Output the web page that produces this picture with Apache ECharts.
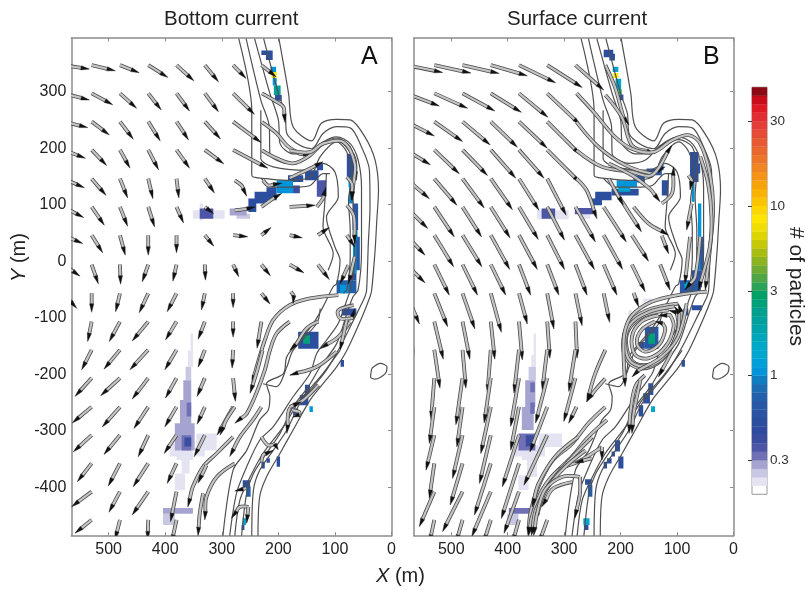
<!DOCTYPE html>
<html><head><meta charset="utf-8">
<style>html,body{margin:0;padding:0;background:#fff}#c{width:806px;height:591px}</style>
<script src="https://cdn.jsdelivr.net/npm/echarts@6/dist/echarts.min.js"></script>
</head><body><div id="c"></div>
<script>
// ---- axes
const xTicks = [0,100,200,300,400,500];
const yTicks = [-400,-300,-200,-100,0,100,200,300];
const xMax = 566, yMin = -486, yMax = 395;

// ---- colour scale (level 0 at bottom)
const colorbarColors = ['none','#e4e3f1','#c9c8e3','#a5a4d0','#6f70b5','#4d55a6','#3a4da0','#2e4b9f','#2b4e9f','#2b52a3','#2857a6','#2260ab','#1a6cb3','#0f7dbf','#0095da','#009fd8','#00a5d0','#00a8c8','#00a6bb','#00a3ac','#00a19d','#00a08c','#00a07a','#00a068','#2aa258','#4ea647','#6eab33','#8cb41f','#a9bd10','#c5c908','#ddd500','#f0df00','#ffe600','#fdd500','#fbc400','#f9b200','#f7a30c','#f39419','#ef8523','#eb7629','#e9682d','#e75a32','#e54c36','#e33e38','#e12e34','#e01a25','#c80c1a','#8b0a14'];
const colorbarTickLevels = [4,14,24,34,44];
const colorbarTickLabels = ['0.3','1','3','10','30'];

// ---- current grid (arrow tails, m)
const gridX = [580,530,480,430,380,330,280,230,180,130,80];
const gridY = [347,297,247,197,146,96,46,-6,-57,-107,-157,-207,-258,-308,-358,-408,-458];
const quiverScale = 0.59; // m of arrow per velocity unit
const n = null;
// u = shoreward, v = southward
const uBottom = [
[78,71,58,59,52,41,39,44],[78,63,50,39,39,41,64],[73,53,40,36,36,47,84],[66,45,30,31,39,57,104],
[63,43,23,14,7,29],[61,38,23,19,21,26],[58,33,16,0,0,27,44,29,38,34],[50,20,2,-18,-11,2,17,27,43,34],
[40,0,-13,-27,-28,-10,0,26],[n,-12,-32,-48,-33,-20,0,-13],[n,-30,-48,-55,-35,-20,-3],[n,-50,-58,-48,-33,-23,7],
[n,-58,-53,-43,-35,-23,-48],[n,-55,-48,-30,-37,-32],[n,-43,-35,-45,-28],[n,-60,-33,-48,-18],[n,-50,-15,-2,-15]];
const vBottom = [
[12,17,23,37,47,50,40,35],[20,34,45,50,53,55,63],[18,40,53,58,55,52,63],[25,47,55,60,55,42,55],
[27,50,58,60,58,43],[32,55,58,60,48,20],[25,53,60,60,53,33,5,-23,8,-23],[35,58,59,52,50,47,37,34,25,45],
[45,57,55,58,55,50,43,32],[n,60,60,58,55,53,47,80],[n,60,58,60,60,52,55],[n,55,53,63,60,55,70],
[n,48,60,65,60,52,85],[n,50,58,65,55,65],[n,55,68,70,60],[n,45,62,70,90],[n,40,60,60,70]];
const uSurface = [
[110,110,110,110,110,105,85],[100,100,97,92,87,100],[85,85,83,80,85,100],[73,75,75,75,75,100],
[70,68,65,65,60,57,n,n],[65,60,57,58,58,52,60,68],[57,58,58,57,55,52,57,57,50],[57,45,45,45,35,35,35,40,40,30],
[40,40,37,32,25,20,20,18],[23,27,22,12,10,8,5],[n,17,10,-10,-15,-15,-20],[n,-10,-20,-20,-25,-35,-35],
[n,-15,-17,-30,-25,-52],[n,-25,-30,-34,-50,-70],[n,-15,-37,-49,-53],[n,-45,-60,-57,-45],[n,-15,-20,-22,-20,-25]];
const vSurface = [
[22,24,25,32,53,67,75],[38,45,53,57,72,95],[43,60,70,77,80,100],[45,72,77,85,85,100],
[60,80,88,93,95,110,n,n],[65,90,90,93,98,100,105,105],[60,95,95,103,103,103,103,103,78],[55,92,92,92,92,92,92,92,82,77],
[92,100,107,117,92,107,97,87],[103,113,113,113,115,110,110],[n,115,115,130,130,120,125],[n,125,140,135,145,135,130],
[n,110,120,140,130,135],[n,105,130,145,155,150],[n,105,125,155,165],[n,105,120,135,125],[n,70,70,70,70,70]];

// ---- long curved current paths [X,Y] in m, tail to tip
const streamsBottom = [
[[229,297],[203,282],[191,273],[188,245]],
[[229,246],[203,226],[185,205],[162,190],[141,188]],
[[229,196],[203,182],[174,173],[147,185],[121,208],[91,214],[67,185],[62,143]],
[[180,196],[144,193],[121,208],[85,211],[65,173],[68,131],[70,108]],
[[180,147],[144,164],[121,176]],
[[277,143],[265,134],[256,115]],
[[227,143],[218,134],[194,138]],
[[230,96],[209,111],[194,120]],
[[277,90],[259,92],[241,96]],
[[180,96],[135,99]],
[[132,96],[121,111],[116,131]],
[[79,149],[70,137],[70,108]],
[[79,99],[67,81],[65,31]],
[[79,46],[65,25]],
[[76,-7],[91,-40]],
[[65,8],[76,-40]],
[[94,-60],[144,-66],[180,-78],[209,-104],[224,-140],[233,-169],[247,-217]],
[[178,-54],[171,-63],[174,-75]],
[[180,-107],[203,-128],[215,-158],[224,-193],[239,-234],[256,-270],[277,-287]],
[[228,-158],[239,-199],[250,-234]],
[[230,-258],[245,-281],[268,-311],[286,-346]],
[[277,-258],[292,-281],[303,-308]],
[[280,-311],[309,-340],[333,-364],[351,-399],[360,-435]],
[[277,-358],[309,-382],[327,-417],[330,-458]],
[[327,-361],[342,-393]],
[[333,-411],[339,-447],[342,-486]],
[[253,-435],[268,-435],[283,-455]],
[[257,-402],[277,-407]],
[[253,-435],[256,-464]],
[[129,-107],[150,-119],[168,-146],[180,-158]],
[[97,-160],[132,-187],[180,-202]],
[[67,-78],[94,-87],[91,-101],[70,-101],[65,-84]],
[[73,-107],[94,-134],[126,-155]],
[[79,-104],[91,-158]],
[[129,-219],[156,-246],[180,-261],[185,-305]],
[[180,-258],[159,-249]],
[[174,-264],[163,-267],[163,-276],[174,-276]],
[[230,-311],[218,-326],[203,-323],[200,-334]],
[[230,-355],[227,-343],[209,-335]]
];
const streamsSurface = [
[[227,347],[210,308],[195,255],[185,241]],
[[227,294],[198,255],[180,205],[139,190]],
[[278,297],[245,261],[210,220],[180,199],[142,193],[109,214],[80,223],[59,208],[42,155],[36,96],[42,19],[50,-51]],
[[278,246],[239,202],[192,170],[145,155],[121,167]],
[[278,196],[233,167],[180,158],[145,152],[109,205]],
[[221,173],[180,152],[148,128],[130,105]],
[[278,146],[260,125],[242,75]],
[[210,125],[163,52]],
[[177,96],[151,67],[115,46]],
[[221,146],[195,99]],
[[127,102],[109,120],[106,167]],
[[80,152],[74,143],[77,126]],
[[74,102],[83,55]],
[[127,45],[115,13]],
[[77,43],[86,-40]],
[[59,43],[68,-28],[86,-51]],
[[59,185],[45,137],[39,78],[42,25],[62,-51]],
[[133,-96],[163,-107],[180,-134],[174,-166],[151,-172],[121,-152],[106,-116],[112,-96],[133,-96]],
[[98,-75],[145,-84],[180,-104],[195,-137],[189,-175],[163,-190],[127,-175],[101,-134],[92,-93],[98,-75]],
[[115,-87],[157,-96],[186,-122],[189,-155],[174,-181],[142,-181],[112,-155],[98,-116],[101,-90],[115,-87]],
[[139,-107],[163,-122],[171,-146],[157,-160],[133,-149],[121,-122],[127,-107],[139,-107]],
[[105,-80],[150,-90],[183,-112],[192,-146],[182,-178],[152,-186],[119,-165],[99,-125],[96,-91],[105,-80]],
[[47,-54],[98,-60],[145,-72],[180,-96],[192,-122],[195,-152],[192,-222]],
[[177,-56],[168,-81]],
[[83,-75],[98,-134],[127,-169],[168,-193],[180,-205]],
[[109,-160],[133,-205]],
[[157,-202],[174,-222],[183,-270],[185,-305]],
[[165,-211],[177,-270],[180,-305]],
[[227,-208],[245,-228],[260,-249]],
[[227,-258],[257,-287],[286,-323],[322,-355],[348,-405],[360,-447],[364,-486]],
[[227,-157],[245,-199],[260,-249]],
[[278,-258],[292,-287]],
[[224,-281],[257,-311],[286,-346],[322,-382],[345,-423],[354,-458]],
[[233,-329],[275,-355],[310,-370],[339,-405],[357,-452],[363,-486]],
[[275,-311],[316,-346],[345,-393],[357,-435]],
[[250,-311],[290,-352],[325,-393],[350,-440],[358,-486]],
[[262,-335],[300,-366],[332,-405],[352,-460]],
[[272,-382],[304,-382],[334,-405],[348,-447],[354,-486]],
[[272,-382],[272,-411],[281,-455]],
[[286,-391],[319,-402],[340,-435]],
[[233,-329],[233,-352]],
[[251,-349],[281,-357]]
];

// ---- bathymetric contours [X,Y] in m
const contours = [
[[199,394],[182,297],[174,238],[141,213],[124,244],[97,251],[73,250],[47,220],[29,179],[23,126],[26,72],[29,19],[35,-51],[38,-63],[53,-101],[79,-158],[97,-187],[121,-217],[144,-246],[174,-299],[197,-340],[221,-382],[233,-417],[236,-486]],
[[226,394],[200,297],[188,261],[185,226],[162,205],[141,199],[121,226],[97,238],[73,236],[53,202],[39,161],[38,96],[41,31],[44,-51],[47,-63],[67,-104],[91,-152],[115,-193],[138,-222],[162,-252],[185,-299],[209,-335],[233,-370],[244,-405],[247,-486]],
[[242,394],[215,297],[200,250],[197,208],[174,190],[147,190],[121,211],[97,220],[73,208],[59,179],[53,131],[53,78],[53,19],[59,-51],[68,-63],[79,-93],[97,-146],[126,-187],[147,-222],[174,-258],[197,-305],[221,-340],[244,-376],[256,-411],[265,-486]],
[[257,394],[231,285],[216,238],[215,190],[185,173],[156,179],[129,205],[97,215],[73,202],[65,161],[68,114],[65,55],[65,-4],[73,-51],[79,-69],[94,-110],[115,-140],[132,-163],[144,-199],[174,-240],[209,-293],[233,-317],[256,-364],[274,-411],[286,-486]],
[[270,394],[247,267],[247,152],[221,146],[185,143],[144,149],[126,185],[97,211],[79,193],[70,149],[76,108],[73,55],[73,8],[79,-51],[85,-57]],
[[231,267],[231,182],[209,167],[150,161],[121,173],[100,158],[94,114],[115,78],[100,25],[91,2],[97,-40],[103,-45],[121,-81],[138,-110],[162,-140],[185,-169],[191,-199],[221,-217],[215,-240],[218,-264],[233,-281],[256,-335],[280,-370],[298,-486]],
[[230,146],[209,131],[174,131],[144,134],[121,155],[109,155]],
[[126,-84],[132,-110],[174,-158],[185,-187],[203,-222],[227,-217]],
[[115,155],[118,102],[121,61],[103,13],[112,-16]],
[[91,-158],[126,-205],[162,-246],[191,-293],[227,-340],[250,-382],[268,-423],[277,-486]],
[[35,-190],[20,-181],[8,-187],[11,-199],[29,-209],[37,-205],[35,-190]]
];

// ---- particle density patches [X0,X1,Y0,Y1,count]
const heatBottom = [
[230,210,373,365,.5],[222,210,365,356,.5],[214,204,344,335,1],[212,203,335,324,8],[210,203,324,311,1],[208,196,311,294,2],[206,194,294,284,.5],
[132,121,173,161,.5],[153,129,161,143,.5],[183,156,152,140,.5],[203,174,143,120,1],[174,162,134,120,.4],[221,203,131,108,.5],[242,218,123,102,.5],[253,239,111,87,.5],
[286,256,93,81,.28],[274,250,84,75,.25],[132,115,143,114,.35],[339,315,93,75,.35],[351,295,90,75,.22],[339,333,102,72,.2],
[79,65,190,149,.5],[76,65,149,131,1],[75,68,131,102,.9],[69,59,102,55,.6],[66,60,55,37,1],[65,56,43,-16,.6],[68,62,31,-22,1],[73,62,-16,-34,.5],[97,62,-34,-57,.7],[91,76,-42,-57,1],
[88,62,-84,-96,.5],[165,129,-125,-155,.5],[156,144,-131,-146,2.5],[90,84,-175,-187,.5],[153,144,-219,-237,.5],[162,147,-237,-255,.5],[145,139,-257,-267,1],[174,165,-261,-273,.5],
[230,224,-355,-367,.5],[221,215,-349,-357,.5],[203,197,-346,-364,.5],[263,250,-388,-402,.5],[257,249,-399,-417,.7],[263,257,-455,-467,1.2],[265,260,-467,-476,.5],
[355,351,-128,-158,.2],[360,351,-158,-187,.22],[364,354,-187,-211,.25],[368,354,-211,-246,.28],[374,354,-246,-311,.28],[383,348,-287,-335,.28],[371,354,-308,-335,.33],[366,354,-312,-328,.42],[362,354,-250,-275,.33],[392,374,-323,-346,.22],[380,351,-335,-352,.22],[371,357,-352,-376,.2],[383,365,-376,-405,.2],[345,309,-305,-335,.2],[345,330,-329,-346,.2],[404,351,-437,-447,.28],[404,383,-447,-467,.25]
];
const heatSurface = [
[230,213,374,361,.5],[220,210,367,355,.5],[214,204,344,335,1.2],[213,204,333,324,8],[209,199,323,303,1.2],[204,198,304,295,3],[205,195,295,285,.5],
[133,124,173,161,.5],[154,127,164,152,.55],[177,157,152,139,.6],[207,171,143,131,1],[204,183,133,123,1.2],[216,168,128,116,.5],[245,216,123,108,.5],[251,233,111,99,.5],
[281,248,94,83,.35],[269,254,84,75,.22],[127,115,143,116,.5],[340,316,93,75,.35],[348,292,90,74,.22],
[77,62,193,140,.5],[68,59,173,155,.55],[74,69,140,105,1],[63,57,102,43,1],[62,53,43,-16,.6],[65,59,25,-16,1],[74,56,-16,-46,.55],
[95,59,-34,-57,.6],[87,80,-37,-48,1.2],[74,56,-78,-87,.5],[89,80,-84,-96,.5],[160,145,-66,-75,.22],[186,180,-87,-99,.2],[157,133,-116,-155,.6],[168,157,-143,-155,.5],[151,139,-128,-146,2.5],
[92,86,-175,-187,.5],[151,142,-216,-237,.55],[160,148,-234,-252,.55],[168,160,-255,-275,.5],[146,139,-257,-267,1.2],[210,201,-317,-337,.55],[216,210,-337,-346,.5],[224,216,-349,-358,.5],[230,224,-355,-367,.5],[204,195,-346,-367,.5],
[263,251,-386,-396,.5],[258,250,-396,-417,.7],[266,255,-455,-467,1.2],[265,257,-467,-476,.5],
[354,350,-128,-166,.2],[358,350,-166,-187,.22],[363,350,-187,-211,.25],[369,351,-211,-258,.28],[375,354,-258,-299,.28],[381,351,-305,-335,.33],[368,354,-308,-328,.42],[360,352,-215,-232,.33],[360,352,-250,-270,.33],[390,366,-326,-346,.22],[375,351,-335,-352,.2],[366,348,-349,-382,.2],[381,363,-379,-405,.2],[345,304,-305,-329,.2],[354,334,-326,-346,.2],[398,351,-437,-447,.3],[401,381,-447,-467,.25]
];

// ---- helpers
const ink = '#222', frame = '#8c8c8c', FF = '"Liberation Sans",Arial,sans-serif';
function level(v){ return Math.max(1, Math.min(47, Math.round(14 + 20*Math.log10(v)))); }
function quiverPaths(U, V){
  const out = [];
  gridY.forEach((y,j)=> gridX.forEach((x,i)=>{
    const u = U[j][i], v = V[j][i];
    if (u==null || v==null) return;
    out.push([[x,y],[x-u*quiverScale, y-v*quiverScale]]);
  }));
  return out;
}
function arrowSeries(paths, xi, yi){
  return { type:'custom', xAxisIndex:xi, yAxisIndex:yi, clip:true, z:4, silent:true,
    data: paths.map(p=>p[0]), encode:{x:0,y:1},
    renderItem(params, api){
      const pts = paths[params.dataIndex].map(p=>api.coord(p));
      const headLen = 8.5, tip = pts[pts.length-1];
      let remain = headLen, shaft = pts.slice(), base = null;
      for (let k=pts.length-1;k>0;k--){
        const a=pts[k-1], b=pts[k], L=Math.hypot(b[0]-a[0],b[1]-a[1]);
        if (L>=remain){ const t=remain/L; base=[b[0]+(a[0]-b[0])*t,b[1]+(a[1]-b[1])*t]; shaft=pts.slice(0,k).concat([base]); break; }
        remain-=L;
      }
      if(!base){ base=pts[0]; shaft=[pts[0],pts[0]]; }
      const dx=tip[0]-base[0], dy=tip[1]-base[1], L=Math.hypot(dx,dy)||1, px=-dy/L*2.1, py=dx/L*2.1;
      return {type:'group',children:[
        {type:'polyline',shape:{points:shaft,smooth:pts.length>2?0.35:0},style:{fill:'none',stroke:'#4a4a4a',lineWidth:3.8,lineCap:'butt'}},
        {type:'polyline',shape:{points:shaft,smooth:pts.length>2?0.35:0},style:{fill:'none',stroke:'#c4c4c4',lineWidth:2.2,lineCap:'butt'}},
        {type:'polygon',shape:{points:[[base[0]+px,base[1]+py],tip,[base[0]-px,base[1]-py]]},style:{fill:'#111',stroke:'#111',lineWidth:.4}}
      ]};
    }
  };
}
function heatSeries(patches, xi, yi){
  return { type:'custom', xAxisIndex:xi, yAxisIndex:yi, clip:true, z:2, silent:true,
    data: patches.slice().sort((a,b)=>a[4]-b[4]), encode:{x:[0,1],y:[2,3]},
    renderItem(params, api){
      const a=api.coord([api.value(0),api.value(2)]), b=api.coord([api.value(1),api.value(3)]);
      return {type:'rect',shape:{x:a[0],y:a[1],width:b[0]-a[0],height:b[1]-a[1]},style:{fill:colorbarColors[level(api.value(4))]}};
    }
  };
}
function contourSeries(xi, yi){
  return contours.map(c=>({type:'line',xAxisIndex:xi,yAxisIndex:yi,data:c,showSymbol:false,symbol:'none',smooth:0.3,silent:true,z:3,
    lineStyle:{color:'#505050',width:1.2}}));
}
function panelAxes(gi, showY){
  const lab={color:ink,fontSize:16,fontFamily:FF};
  const line={show:true,lineStyle:{color:frame,width:1.5}};
  const tick={show:true,inside:true,length:3.5,lineStyle:{color:frame,width:1}};
  return {
    x:[
      {type:'value',gridIndex:gi,inverse:true,min:0,max:xMax,position:'bottom',axisLine:{...line,onZero:false},splitLine:{show:false},
        axisTick:{...tick,customValues:xTicks},axisLabel:{...lab,margin:6,customValues:xTicks,showMinLabel:true,showMaxLabel:true}},
      {type:'value',gridIndex:gi,inverse:true,min:0,max:xMax,position:'top',axisLine:{...line,onZero:false},splitLine:{show:false},
        axisTick:{...tick,customValues:xTicks},axisLabel:{show:false}}
    ],
    y:[
      {type:'value',gridIndex:gi,min:yMin,max:yMax,position:'left',axisLine:{...line,onZero:false},splitLine:{show:false},
        axisTick:{show:false},axisLabel:showY?{...lab,margin:5,customValues:yTicks}:{show:false}},
      {type:'value',gridIndex:gi,min:yMin,max:yMax,position:'right',axisLine:{...line,onZero:false},splitLine:{show:false},
        axisTick:{...tick,customValues:yTicks},axisLabel:{show:false}}
    ]
  };
}
const A = panelAxes(0,true), B = panelAxes(1,false);
const levels = colorbarColors.map((_,k)=>k);

const option = {
  animation:false,
  backgroundColor:'#fff',
  grid:[
    {left:71.3,top:38,width:320.2,height:497.7},
    {left:414,top:38,width:319.5,height:497.7},
    {left:752,top:87.3,width:15,height:407,show:true,borderColor:'#9a9a9a',borderWidth:1}
  ],
  xAxis:[...A.x,...B.x,{type:'value',gridIndex:2,min:0,max:1,show:false}],
  yAxis:[...A.y,...B.y,{type:'value',gridIndex:2,min:0,max:48,position:'right',
    axisLine:{show:false},splitLine:{show:false},
    axisTick:{show:true,inside:true,length:4,lineStyle:{color:'#333',width:1},customValues:colorbarTickLevels},
    axisLabel:{color:'#333',fontSize:13.5,fontFamily:FF,margin:3,customValues:colorbarTickLevels,
      formatter:v=>colorbarTickLabels[colorbarTickLevels.indexOf(v)]}}],
  series:[
    heatSeries(heatBottom,0,0), ...contourSeries(0,0), arrowSeries(quiverPaths(uBottom,vBottom).concat(streamsBottom),0,0),
    heatSeries(heatSurface,2,2), ...contourSeries(2,2), arrowSeries(quiverPaths(uSurface,vSurface).concat(streamsSurface),2,2),
    {type:'custom',xAxisIndex:4,yAxisIndex:4,silent:true,z:2,data:levels.map(k=>[0,1,k]),encode:{x:[0,1],y:2},
      renderItem(params,api){
        const k=api.value(2),a=api.coord([0,k+1]),b=api.coord([1,k]);
        return {type:'rect',shape:{x:a[0],y:a[1],width:b[0]-a[0],height:b[1]-a[1]},style:{fill:colorbarColors[k],stroke:colorbarColors[k],lineWidth:.3}};
      }}
  ],
  graphic:[
    {type:'text',left:164,top:9,style:{text:'Bottom current',font:'20.5px '+FF,fill:ink}},
    {type:'text',left:507,top:9,style:{text:'Surface current',font:'20.5px '+FF,fill:ink}},
    {type:'text',left:361,top:45,style:{text:'A',font:'25px '+FF,fill:'#111'}},
    {type:'text',left:703,top:45,style:{text:'B',font:'25px '+FF,fill:'#111'}},
    {type:'text',x:376,y:566,style:{text:'{i|X} (m)',font:'20px '+FF,fill:ink,rich:{i:{font:'italic 20px '+FF,fill:ink}}}},
    {type:'text',x:9,y:282,rotation:Math.PI/2,style:{text:'{i|Y} (m)',font:'20px '+FF,fill:ink,rich:{i:{font:'italic 20px '+FF,fill:ink}}}},
    {type:'text',x:806,y:227,rotation:-Math.PI/2,style:{text:'# of particles',font:'21px '+FF,fill:ink}}
  ]
};
const chart = echarts.init(document.getElementById('c'),null,{renderer:'canvas'});
chart.setOption(option);
</script></body></html>
